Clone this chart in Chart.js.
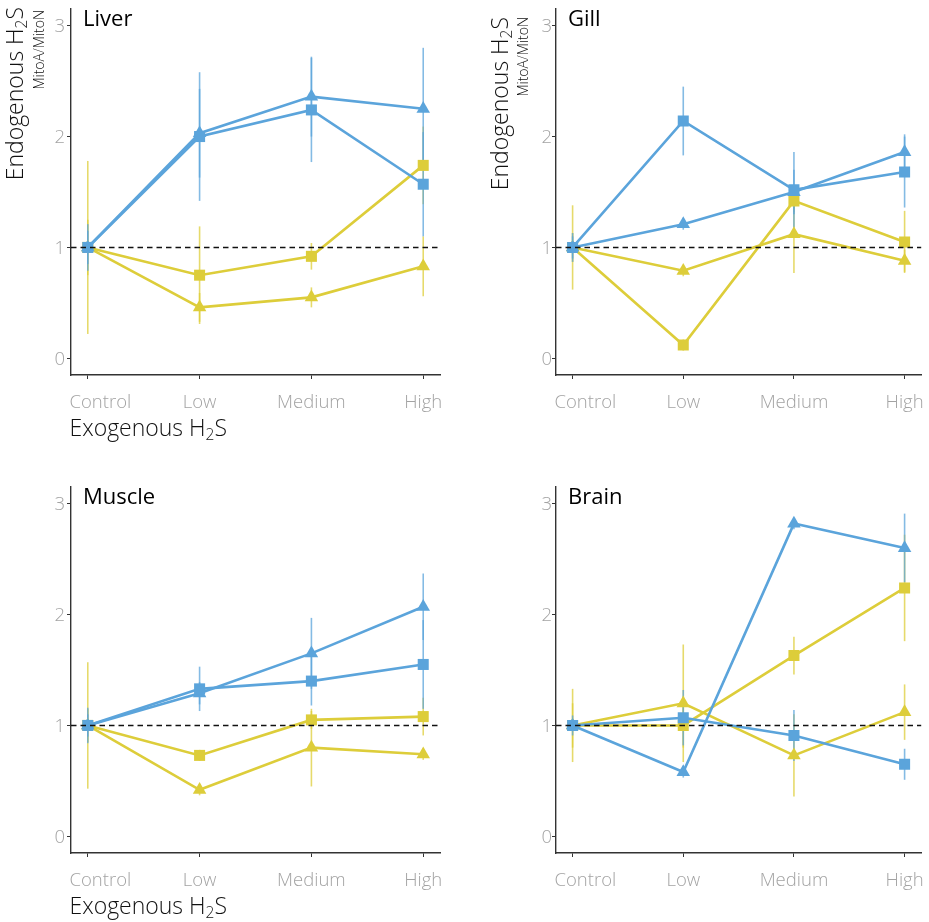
<!DOCTYPE html>
<html>
<head>
<meta charset="utf-8">
<script src="https://cdn.jsdelivr.net/npm/chart.js@4.4.1/dist/chart.umd.min.js"></script>
<style>
  html, body { margin: 0; padding: 0; background: #ffffff; }
  #grid { position: relative; width: 929px; height: 922px; overflow: hidden; }
  .cell { position: absolute; }
</style>
</head>
<body>
<div id="grid">
  <div class="cell" style="left:0;top:0"><canvas id="liver" width="464" height="461"></canvas></div>
  <div class="cell" style="left:464px;top:0"><canvas id="gill" width="465" height="461"></canvas></div>
  <div class="cell" style="left:0;top:461px"><canvas id="muscle" width="464" height="461"></canvas></div>
  <div class="cell" style="left:464px;top:461px"><canvas id="brain" width="465" height="461"></canvas></div>
</div>
<script>
// ---- data ----
const categories = ['Control', 'Low', 'Medium', 'High'];
const yTickValues = [0, 1, 2, 3];
const referenceLevel = 1;

// Liver
const liverBlueSquare      = [1, 2.00, 2.24, 1.57];
const liverBlueSquareErr   = [0.21, 0.58, 0.47, 0.47];
const liverBlueTriangle    = [1, 2.03, 2.36, 2.25];
const liverBlueTriangleErr = [0.15, 0.40, 0.36, 0.55];
const liverYellowSquare      = [1, 0.75, 0.92, 1.74];
const liverYellowSquareErr   = [0.78, 0.44, 0.12, 0.35];
const liverYellowTriangle    = [1, 0.46, 0.55, 0.83];
const liverYellowTriangleErr = [0.25, 0.13, 0.09, 0.27];

// Gill
const gillBlueSquare      = [1, 2.14, 1.52, 1.68];
const gillBlueSquareErr   = [0.13, 0.31, 0.34, 0.32];
const gillBlueTriangle    = [1, 1.21, 1.50, 1.86];
const gillBlueTriangleErr = [0.10, 0.05, 0.20, 0.16];
const gillYellowSquare      = [1, 0.12, 1.42, 1.05];
const gillYellowSquareErr   = [0.38, 0.05, 0.10, 0.28];
const gillYellowTriangle    = [1, 0.79, 1.12, 0.88];
const gillYellowTriangleErr = [0.13, 0.05, 0.35, 0.10];

// Muscle
const muscleBlueSquare      = [1, 1.33, 1.40, 1.55];
const muscleBlueSquareErr   = [0.16, 0.20, 0.22, 0.40];
const muscleBlueTriangle    = [1, 1.29, 1.65, 2.07];
const muscleBlueTriangleErr = [0.10, 0.10, 0.32, 0.30];
const muscleYellowSquare      = [1, 0.73, 1.05, 1.08];
const muscleYellowSquareErr   = [0.57, 0.05, 0.08, 0.17];
const muscleYellowTriangle    = [1, 0.42, 0.80, 0.74];
const muscleYellowTriangleErr = [0.15, 0.05, 0.35, 0.05];

// Brain
const brainBlueSquare      = [1, 1.07, 0.91, 0.65];
const brainBlueSquareErr   = [0.09, 0.25, 0.23, 0.14];
const brainBlueTriangle    = [1, 0.58, 2.82, 2.60];
const brainBlueTriangleErr = [0.05, 0.05, 0.05, 0.31];
const brainYellowSquare      = [1, 1.00, 1.63, 2.24];
const brainYellowSquareErr   = [0.33, 0.20, 0.17, 0.48];
const brainYellowTriangle    = [1, 1.20, 0.73, 1.12];
const brainYellowTriangleErr = [0.20, 0.53, 0.37, 0.25];

// ---- styling ----
const BLUE = '#5ba4db';
const YELLOW = '#ddcd3a';
const BLUE_ERR = 'rgba(91,164,219,0.75)';
const YELLOW_ERR = 'rgba(221,205,58,0.75)';
const FONT = '"Open Sans", "Noto Sans", sans-serif';
const TICK_GREY = '#a3a3a3';
const AXIS_COLOR = '#333333';
const LIGHT = 300;
const TITLE_SIZE = 23;
const TITLE_SUB_SIZE = 15.5;

function series(label, values, errors, color, errColor, shape) {
  return {
    label,
    data: values.map((v, i) => ({ x: i, y: v })),
    errors,
    errColor,
    borderColor: color,
    backgroundColor: color,
    borderWidth: 2.6,
    pointStyle: shape,
    pointRadius: 7.8,
    pointHoverRadius: 7.8,
    pointBorderWidth: 0,
    tension: 0
  };
}

const panels = [
  {
    canvas: 'liver', title: 'Liver',
    padTop: 9, padRight: 24, yAxisWidth: 71, xAxisHeight: 86, tickPad: 2,
    yTitle: { x: 23, endY: 7, subX: 44, subEndY: 10 }, xTitle: true,
    sets: [
      series('blue square', liverBlueSquare, liverBlueSquareErr, BLUE, BLUE_ERR, 'rect'),
      series('blue triangle', liverBlueTriangle, liverBlueTriangleErr, BLUE, BLUE_ERR, 'triangle'),
      series('yellow square', liverYellowSquare, liverYellowSquareErr, YELLOW, YELLOW_ERR, 'rect'),
      series('yellow triangle', liverYellowTriangle, liverYellowTriangleErr, YELLOW, YELLOW_ERR, 'triangle')
    ]
  },
  {
    canvas: 'gill', title: 'Gill',
    padTop: 9, padRight: 4, yAxisWidth: 92, xAxisHeight: 86, tickPad: 0,
    yTitle: { x: 44, endY: 17, subX: 64, subEndY: 17 }, xTitle: false,
    sets: [
      series('blue square', gillBlueSquare, gillBlueSquareErr, BLUE, BLUE_ERR, 'rect'),
      series('blue triangle', gillBlueTriangle, gillBlueTriangleErr, BLUE, BLUE_ERR, 'triangle'),
      series('yellow square', gillYellowSquare, gillYellowSquareErr, YELLOW, YELLOW_ERR, 'rect'),
      series('yellow triangle', gillYellowTriangle, gillYellowTriangleErr, YELLOW, YELLOW_ERR, 'triangle')
    ]
  },
  {
    canvas: 'muscle', title: 'Muscle',
    padTop: 26, padRight: 24, yAxisWidth: 71, xAxisHeight: 69, tickPad: 2,
    yTitle: null, xTitle: true,
    sets: [
      series('blue square', muscleBlueSquare, muscleBlueSquareErr, BLUE, BLUE_ERR, 'rect'),
      series('blue triangle', muscleBlueTriangle, muscleBlueTriangleErr, BLUE, BLUE_ERR, 'triangle'),
      series('yellow square', muscleYellowSquare, muscleYellowSquareErr, YELLOW, YELLOW_ERR, 'rect'),
      series('yellow triangle', muscleYellowTriangle, muscleYellowTriangleErr, YELLOW, YELLOW_ERR, 'triangle')
    ]
  },
  {
    canvas: 'brain', title: 'Brain',
    padTop: 26, padRight: 4, yAxisWidth: 92, xAxisHeight: 69, tickPad: 0,
    yTitle: null, xTitle: false,
    sets: [
      series('blue square', brainBlueSquare, brainBlueSquareErr, BLUE, BLUE_ERR, 'rect'),
      series('blue triangle', brainBlueTriangle, brainBlueTriangleErr, BLUE, BLUE_ERR, 'triangle'),
      series('yellow square', brainYellowSquare, brainYellowSquareErr, YELLOW, YELLOW_ERR, 'rect'),
      series('yellow triangle', brainYellowTriangle, brainYellowTriangleErr, YELLOW, YELLOW_ERR, 'triangle')
    ]
  }
];

// widths of the pieces of a label that carries a subscript
function pieceWidths(ctx, pieces, size, subSize, weight) {
  return pieces.map(p => {
    ctx.font = `${weight} ${p.sub ? subSize : size}px ${FONT}`;
    return ctx.measureText(p.text).width;
  });
}

const panelDecor = {
  id: 'panelDecor',
  beforeDatasetsDraw(chart) {
    // vertical error bars, drawn beneath the lines and markers
    const { ctx, scales: { x, y } } = chart;
    ctx.save();
    ctx.lineWidth = 1.6;
    ctx.lineCap = 'butt';
    for (let d = chart.data.datasets.length - 1; d >= 0; d--) {
      const ds = chart.data.datasets[d];
      ctx.strokeStyle = ds.errColor;
      ds.data.forEach((pt, i) => {
        const e = ds.errors[i];
        const px = x.getPixelForValue(pt.x);
        ctx.beginPath();
        ctx.moveTo(px, y.getPixelForValue(pt.y - e));
        ctx.lineTo(px, y.getPixelForValue(pt.y + e));
        ctx.stroke();
      });
    }
    ctx.restore();
  },
  afterDatasetsDraw(chart) {
    // dashed reference line at 1
    const { ctx, chartArea, scales: { y } } = chart;
    const py = Math.round(y.getPixelForValue(referenceLevel)) + 0.5;
    ctx.save();
    ctx.strokeStyle = '#111111';
    ctx.lineWidth = 1.4;
    ctx.setLineDash([5.5, 4]);
    ctx.beginPath();
    ctx.moveTo(chartArea.left, py);
    ctx.lineTo(chartArea.right, py);
    ctx.stroke();
    ctx.restore();
  },
  afterDraw(chart, args, opts) {
    const { ctx, chartArea, scales: { x } } = chart;
    const cfg = opts.cfg;
    ctx.save();

    // panel title
    ctx.fillStyle = '#000000';
    ctx.font = `400 22px ${FONT}`;
    ctx.textAlign = 'left';
    ctx.textBaseline = 'alphabetic';
    ctx.fillText(cfg.title, chartArea.left + 12, chartArea.top + 16.5);

    // category labels under the x axis
    ctx.fillStyle = TICK_GREY;
    ctx.font = `${LIGHT} 18.5px ${FONT}`;
    categories.forEach((name, i) => {
      const px = x.getPixelForValue(i);
      if (i === 0) {
        ctx.textAlign = 'left';
        ctx.fillText(name, chartArea.left - 1.5, chartArea.bottom + 33);
      } else {
        ctx.textAlign = 'center';
        ctx.fillText(name, px, chartArea.bottom + 33);
      }
    });

    // x axis title
    if (cfg.xTitle) {
      const pieces = [{ text: 'Exogenous H' }, { text: '2', sub: true }, { text: 'S' }];
      const w = pieceWidths(ctx, pieces, TITLE_SIZE, TITLE_SUB_SIZE, LIGHT);
      let cx = chartArea.left - 1.5;
      const base = chartArea.bottom + 60.5;
      ctx.fillStyle = '#111111';
      ctx.textAlign = 'left';
      pieces.forEach((p, i) => {
        ctx.font = `${LIGHT} ${p.sub ? TITLE_SUB_SIZE : TITLE_SIZE}px ${FONT}`;
        ctx.fillText(p.text, cx, base + (p.sub ? 4 : 0));
        cx += w[i];
      });
    }

    // y axis title, rotated
    if (cfg.yTitle) {
      const t = cfg.yTitle;
      const pieces = [{ text: 'Endogenous H' }, { text: '2', sub: true }, { text: 'S' }];
      const w = pieceWidths(ctx, pieces, TITLE_SIZE, TITLE_SUB_SIZE, LIGHT);
      const total = w.reduce((a, b) => a + b, 0);
      ctx.translate(t.x, t.endY);
      ctx.rotate(-Math.PI / 2);
      ctx.fillStyle = '#111111';
      ctx.textAlign = 'left';
      let u = -total;
      pieces.forEach((p, i) => {
        ctx.font = `${LIGHT} ${p.sub ? TITLE_SUB_SIZE : TITLE_SIZE}px ${FONT}`;
        ctx.fillText(p.text, u, p.sub ? 4 : 0);
        u += w[i];
      });
      ctx.font = `${LIGHT} 14px ${FONT}`;
      ctx.textAlign = 'right';
      ctx.fillText('MitoA/MitoN', -(t.subEndY - t.endY), t.subX - t.x);
    }
    ctx.restore();
  }
};

function build(cfg) {
  const canvas = document.getElementById(cfg.canvas);
  return new Chart(canvas, {
    type: 'line',
    data: { datasets: cfg.sets },
    options: {
      responsive: false,
      animation: false,
      events: [],
      layout: { padding: { left: 0, top: cfg.padTop, right: cfg.padRight, bottom: 0 } },
      plugins: {
        legend: { display: false },
        tooltip: { enabled: false },
        panelDecor: { cfg }
      },
      scales: {
        x: {
          type: 'linear',
          min: -0.15,
          max: 3.15,
          afterBuildTicks(scale) { scale.ticks = categories.map((c, i) => ({ value: i })); },
          afterFit(scale) {
            scale.height = cfg.xAxisHeight;
            scale.paddingLeft = 0; scale.paddingRight = 0;
          },
          grid: { display: true, drawOnChartArea: false, drawTicks: true, tickLength: 4, color: AXIS_COLOR, lineWidth: 1 },
          border: { display: true, color: AXIS_COLOR, width: 1.4 },
          ticks: { display: false }
        },
        y: {
          type: 'linear',
          min: -0.15,
          max: 3.15,
          afterBuildTicks(scale) { scale.ticks = yTickValues.map(v => ({ value: v })); },
          afterFit(scale) {
            scale.width = cfg.yAxisWidth;
            scale.paddingTop = 0; scale.paddingBottom = 0;
          },
          grid: { display: true, drawOnChartArea: false, drawTicks: true, tickLength: 4, color: AXIS_COLOR, lineWidth: 1 },
          border: { display: true, color: AXIS_COLOR, width: 1.4 },
          ticks: {
            color: TICK_GREY,
            padding: cfg.tickPad,
            labelOffset: 1.5,
            font: { family: FONT, size: 18.5, weight: LIGHT },
            callback: v => String(v)
          }
        }
      }
    },
    plugins: [panelDecor]
  });
}

const ready = (document.fonts && document.fonts.load)
  ? Promise.all([
      document.fonts.load(`300 18px "Open Sans"`),
      document.fonts.load(`400 22px "Open Sans"`)
    ]).catch(() => null)
  : Promise.resolve();
ready.then(() => panels.forEach(build));
</script>
</body>
</html>
